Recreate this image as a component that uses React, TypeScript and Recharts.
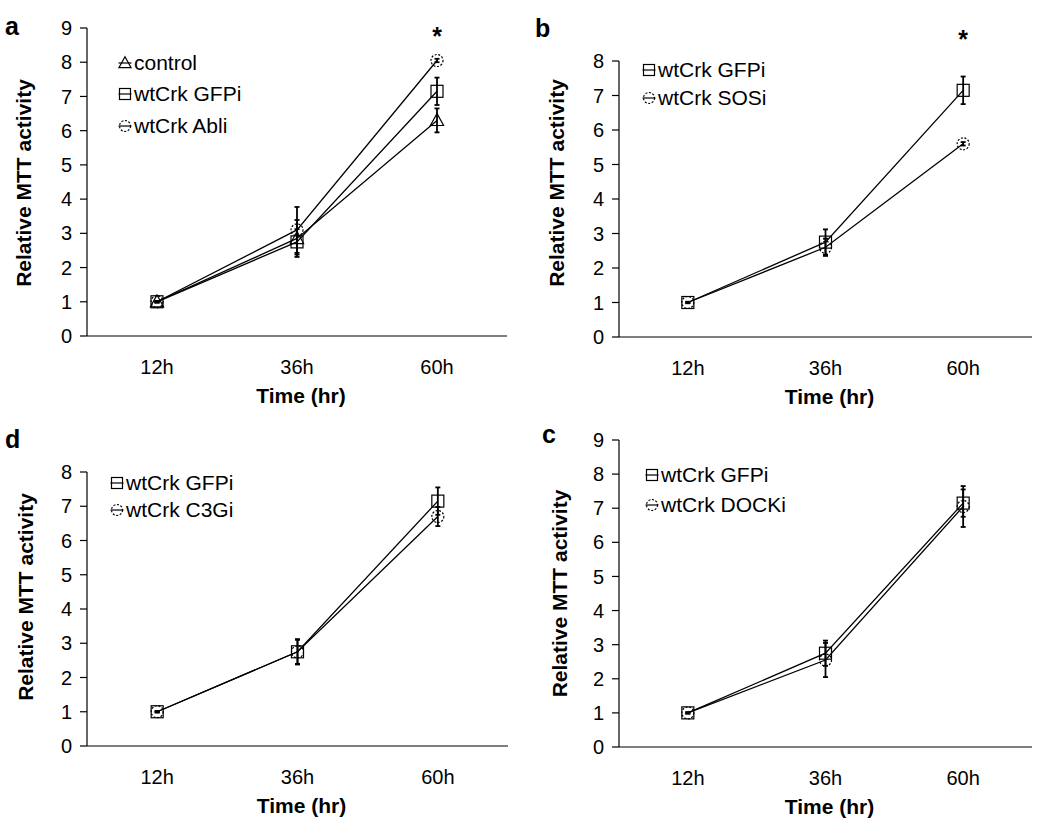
import React from "react";
import { LineChart, Line, XAxis, YAxis, ErrorBar, Legend, ReferenceDot } from "recharts";

const FONT = '"Liberation Sans", Arial, sans-serif';

// categories and axis ticks
const TIMES = ["12h", "36h", "60h"];
const Y_TICKS_9 = [0, 1, 2, 3, 4, 5, 6, 7, 8, 9];
const Y_TICKS_8 = [0, 1, 2, 3, 4, 5, 6, 7, 8];

// series values (relative MTT activity) and error bars
const GFPI = [1, 2.75, 7.15];
const GFPI_ERR = [0.02, 0.37, 0.4];
const CONTROL = [1, 2.85, 6.3];
const CONTROL_ERR = [0.02, 0.54, 0.35];
const ABLI = [1, 3.1, 8.05];
const ABLI_ERR = [0.02, 0.67, 0.05];
const SOSI = [1, 2.6, 5.6];
const SOSI_ERR = [0.02, 0.25, 0.05];
const C3GI = [1, 2.75, 6.7];
const C3GI_ERR = [0.02, 0.35, 0.28];
const DOCKI = [1, 2.55, 7.05];
const DOCKI_ERR = [0.02, 0.5, 0.6];

// significance stars (value where the * sits over 60h)
const STAR_A = 8.88;
const STAR_B = 8.75;

type Shape = "triangle" | "square" | "circle";

interface Series {
  key: string;
  name: string;
  shape: Shape;
  values: number[];
  errs: number[];
}

const catPos = (i: number) => i + 0.5;
const X_BOUNDS = TIMES.map((_, i) => i).concat([TIMES.length]);
const X_CENTERS = TIMES.map((_, i) => catPos(i));

const buildRows = (series: Series[]) =>
  TIMES.map((t, i) => {
    const row: any = { x: catPos(i), time: t };
    series.forEach((s) => {
      row[s.key] = s.values[i];
      row[s.key + "Err"] = s.errs[i];
    });
    return row;
  });

const marker = (shape: Shape, cx: number, cy: number, h: number, key?: string) => {
  if (shape === "square") {
    return (
      <rect key={key} x={cx - h} y={cy - h} width={2 * h} height={2 * h} fill="none" stroke="#000" strokeWidth={1.2} />
    );
  }
  if (shape === "triangle") {
    return (
      <polygon
        key={key}
        points={`${cx},${cy - h * 1.15} ${cx - h * 1.1},${cy + h * 0.85} ${cx + h * 1.1},${cy + h * 0.85}`}
        fill="none"
        stroke="#000"
        strokeWidth={1.2}
      />
    );
  }
  return (
    <circle key={key} cx={cx} cy={cy} r={h} fill="none" stroke="#000" strokeWidth={1.2} strokeDasharray="2 1.6" />
  );
};

interface PanelProps {
  left: number;
  top: number;
  letter: string;
  letterX: number;
  letterY: number;
  series: Series[];
  yMax: number;
  yTicks: number[];
  plotLeft: number;
  margin: { top: number; right: number; bottom: number };
  yLabelX: number;
  yLabelShift: number;
  legendLeft: number;
  legendTop: number;
  rowH: number;
  star?: number;
}

const Panel = (p: PanelProps) => {
  const rows = buildRows(p.series);

  const yLabel = (props: any) => {
    const vb = props.viewBox;
    const cx = vb.x + p.yLabelX;
    const cy = vb.y + vb.height / 2 - p.yLabelShift;
    return (
      <text
        x={cx}
        y={cy}
        transform={`rotate(-90, ${cx}, ${cy})`}
        textAnchor="middle"
        dominantBaseline="central"
        fontFamily={FONT}
        fontWeight="bold"
        fontSize={21}
        fill="#000"
      >
        Relative MTT activity
      </text>
    );
  };

  const xLabel = (props: any) => {
    const vb = props.viewBox;
    return (
      <text
        x={vb.x + vb.width / 2 + 4}
        y={vb.y + 59}
        textAnchor="middle"
        fontFamily={FONT}
        fontWeight="bold"
        fontSize={21}
        fill="#000"
      >
        Time (hr)
      </text>
    );
  };

  const starLabel = (props: any) => {
    const vb = props.viewBox;
    const cx = vb.x + vb.width / 2;
    const cy = vb.y + vb.height / 2;
    return (
      <text x={cx} y={cy + 13} textAnchor="middle" fontFamily={FONT} fontWeight="bold" fontSize={25} fill="#000">
        *
      </text>
    );
  };

  const legendContent = () => (
    <div style={{ fontFamily: FONT, fontSize: 21, color: "#000" }}>
      {p.series.map((s) => (
        <div key={s.key} style={{ display: "flex", alignItems: "center", height: p.rowH, whiteSpace: "nowrap" }}>
          <svg width={16} height={16} style={{ marginRight: 1 }}>
            <line x1={1.5} x2={14.5} y1={8} y2={8} stroke="#000" strokeWidth={1.2} />
            {marker(s.shape, 8, 8, 5.5)}
          </svg>
          <span>{s.name}</span>
        </div>
      ))}
    </div>
  );

  const tickStyle = { fill: "#000", fontSize: 20, fontFamily: FONT };

  return (
    <div style={{ position: "absolute", left: p.left, top: p.top, width: 525, height: 411 }}>
      <div
        style={{
          position: "absolute",
          left: p.letterX,
          top: p.letterY,
          fontFamily: FONT,
          fontWeight: "bold",
          fontSize: 25,
          lineHeight: 1,
          color: "#000",
          zIndex: 2,
        }}
      >
        {p.letter}
      </div>
      <LineChart width={525} height={411} data={rows} margin={{ ...p.margin, left: 0 }}>
        <XAxis
          xAxisId="b_cat"
          type="number"
          dataKey="x"
          domain={[0, TIMES.length]}
          allowDataOverflow
          ticks={X_CENTERS}
          interval={0}
          tickFormatter={(v: number) => TIMES[Math.floor(v)]}
          axisLine={false}
          tickLine={false}
          tickSize={0}
          tickMargin={16}
          height={64}
          tick={tickStyle}
          label={xLabel}
        />
        <XAxis
          xAxisId="a_frame"
          type="number"
          domain={[0, TIMES.length]}
          allowDataOverflow
          ticks={X_BOUNDS}
          interval={0}
          tick={false}
          tickSize={7}
          height={8}
          axisLine={{ stroke: "#000", strokeWidth: 1.2 }}
          tickLine={{ stroke: "#000", strokeWidth: 1.2 }}
        />
        <YAxis
          type="number"
          domain={[0, p.yMax]}
          allowDataOverflow
          ticks={p.yTicks}
          interval={0}
          width={p.plotLeft}
          tickSize={7}
          tickMargin={8}
          axisLine={{ stroke: "#000", strokeWidth: 1.2 }}
          tickLine={{ stroke: "#000", strokeWidth: 1.2 }}
          tick={tickStyle}
          label={yLabel}
        />
        <Legend
          layout="horizontal"
          verticalAlign="middle"
          align="center"
          content={legendContent}
          wrapperStyle={{ left: p.legendLeft, top: p.legendTop, width: "auto", height: "auto" }}
        />
        {p.series.map((s) => (
          <Line
            key={s.key}
            xAxisId="b_cat"
            dataKey={s.key}
            name={s.name}
            type="linear"
            stroke="#000"
            strokeWidth={1.3}
            isAnimationActive={false}
            activeDot={false}
            dot={(d: any) => marker(s.shape, d.cx, d.cy, 6, `${s.key}-${d.index}`)}
          >
            <ErrorBar dataKey={s.key + "Err"} direction="y" width={2.5} stroke="#000" strokeWidth={1.8} />
          </Line>
        ))}
        {p.star !== undefined && (
          <ReferenceDot
            xAxisId="b_cat"
            x={catPos(TIMES.length - 1)}
            y={p.star}
            r={1}
            fill="none"
            stroke="none"
            ifOverflow="visible"
            label={starLabel}
          />
        )}
      </LineChart>
    </div>
  );
};

const SERIES_A: Series[] = [
  { key: "control", name: "control", shape: "triangle", values: CONTROL, errs: CONTROL_ERR },
  { key: "gfp", name: "wtCrk GFPi", shape: "square", values: GFPI, errs: GFPI_ERR },
  { key: "abl", name: "wtCrk Abli", shape: "circle", values: ABLI, errs: ABLI_ERR },
];
const SERIES_B: Series[] = [
  { key: "gfp", name: "wtCrk GFPi", shape: "square", values: GFPI, errs: GFPI_ERR },
  { key: "sos", name: "wtCrk SOSi", shape: "circle", values: SOSI, errs: SOSI_ERR },
];
const SERIES_D: Series[] = [
  { key: "gfp", name: "wtCrk GFPi", shape: "square", values: GFPI, errs: GFPI_ERR },
  { key: "c3g", name: "wtCrk C3Gi", shape: "circle", values: C3GI, errs: C3GI_ERR },
];
const SERIES_C: Series[] = [
  { key: "gfp", name: "wtCrk GFPi", shape: "square", values: GFPI, errs: GFPI_ERR },
  { key: "dock", name: "wtCrk DOCKi", shape: "circle", values: DOCKI, errs: DOCKI_ERR },
];

export default function App() {
  return (
    <div style={{ position: "absolute", left: 0, top: 0, width: 1050, height: 822, background: "#fff", overflow: "hidden" }}>
      <Panel
        left={0}
        top={0}
        letter="a"
        letterX={5}
        letterY={14}
        series={SERIES_A}
        yMax={9}
        yTicks={Y_TICKS_9}
        plotLeft={87}
        margin={{ top: 28, right: 18, bottom: 3 }}
        yLabelX={23}
        yLabelShift={-1}
        legendLeft={117}
        legendTop={47}
        rowH={31.5}
        star={STAR_A}
      />
      <Panel
        left={525}
        top={0}
        letter="b"
        letterX={10}
        letterY={16}
        series={SERIES_B}
        yMax={8}
        yTicks={Y_TICKS_8}
        plotLeft={94}
        margin={{ top: 61, right: 18, bottom: 2 }}
        yLabelX={31}
        yLabelShift={16}
        legendLeft={116}
        legendTop={56}
        rowH={28}
        star={STAR_B}
      />
      <Panel
        left={0}
        top={411}
        letter="d"
        letterX={5}
        letterY={16}
        series={SERIES_D}
        yMax={8}
        yTicks={Y_TICKS_8}
        plotLeft={87}
        margin={{ top: 61, right: 17, bottom: 4 }}
        yLabelX={25}
        yLabelShift={12}
        legendLeft={109}
        legendTop={58}
        rowH={27}
      />
      <Panel
        left={525}
        top={411}
        letter="c"
        letterX={17}
        letterY={11}
        series={SERIES_C}
        yMax={9}
        yTicks={Y_TICKS_9}
        plotLeft={94}
        margin={{ top: 29, right: 18, bottom: 3 }}
        yLabelX={34}
        yLabelShift={0}
        legendLeft={119}
        legendTop={49}
        rowH={30}
      />
    </div>
  );
}
